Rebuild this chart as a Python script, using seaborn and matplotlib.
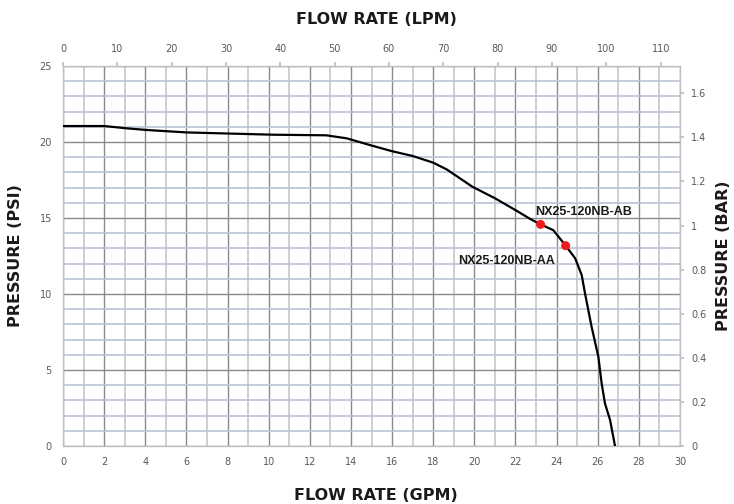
import matplotlib
matplotlib.use("Agg")
import matplotlib.pyplot as plt
import seaborn as sns
import pandas as pd
from matplotlib.ticker import MultipleLocator

# ---- data ----
flow_gpm = [0, 2.0, 3.1, 4.07, 6.0, 7.96, 10.2, 12.8, 13.8, 14.92, 15.98, 17.0, 18.0,
            18.65, 19.06, 19.9, 21.0, 22.05, 22.7, 23.22, 23.84, 24.44, 24.9, 25.22,
            25.38, 25.7, 26.03, 26.19, 26.35, 26.6, 26.84]
pressure_psi = [21.05, 21.05, 20.9, 20.79, 20.63, 20.56, 20.48, 20.44, 20.24, 19.8, 19.4,
                19.08, 18.64, 18.2, 17.83, 17.06, 16.3, 15.48, 14.95, 14.58, 14.2, 13.18,
                12.35, 11.25, 10.05, 7.85, 5.88, 4.12, 2.81, 1.71, 0.0]
model_names = ["NX25-120NB-AB", "NX25-120NB-AA"]
model_gpm = [23.22, 24.44]
model_psi = [14.58, 13.18]

gpm_ticks = list(range(0, 31, 2))
lpm_ticks = list(range(0, 111, 10))
psi_ticks = [0, 5, 10, 15, 20, 25]
bar_ticks = [0, 0.2, 0.4, 0.6, 0.8, 1, 1.2, 1.4, 1.6]
bar_labels = ["0", "0.2", "0.4", "0.6", "0.8", "1", "1.2", "1.4", "1.6"]

LPM_PER_GPM = 3.78541
PSI_PER_BAR = 14.5038

sns.set_theme(style="white")
plt.rcParams['font.family'] = ['DejaVu Sans']

fig = plt.figure(figsize=(7.34, 5.04), dpi=100)
ax = fig.add_axes([63/734, 1-446/504, (680-63)/734, (446-66)/504])

tick_font = dict(family=['Liberation Sans Narrow', 'DejaVu Sans'], size=7, color='#595959')

ax.set_xlim(0, 30)
ax.set_ylim(0, 25)
ax.xaxis.set_major_locator(MultipleLocator(2))
ax.xaxis.set_minor_locator(MultipleLocator(1))
ax.yaxis.set_major_locator(MultipleLocator(5))
ax.yaxis.set_minor_locator(MultipleLocator(1))
ax.grid(which='minor', axis='x', color='#cfcfcf', lw=1.4)
ax.grid(which='major', axis='x', color='#8a8a8a', lw=1.0)
ax.grid(which='minor', axis='y', color='#b9c4d6', lw=1.2)
ax.grid(which='major', axis='y', color='#8a8a8a', lw=1.0)
ax.set_axisbelow(True)
ax.set_xticks(gpm_ticks)
ax.set_xticklabels([str(t) for t in gpm_ticks], fontdict=tick_font)
ax.set_yticks(psi_ticks)
ax.set_yticklabels([str(t) for t in psi_ticks], fontdict=tick_font)
ax.tick_params(which='both', length=0, pad=8)
for s in ax.spines.values():
    s.set_color('#bfbfbf')
    s.set_linewidth(1.0)

df = pd.DataFrame({"gpm": flow_gpm, "psi": pressure_psi})
sns.lineplot(data=df, x="gpm", y="psi", ax=ax, color='black', lw=1.6, sort=False,
             estimator=None, zorder=3)
dm = pd.DataFrame({"gpm": model_gpm, "psi": model_psi, "name": model_names})
sns.scatterplot(data=dm, x="gpm", y="psi", ax=ax, color='#ee1c1c', s=42,
                edgecolor='none', zorder=4)
ax.set_xlabel("")
ax.set_ylabel("")

lab_font = dict(family=['Liberation Sans', 'DejaVu Sans'], size=9, weight='bold', color='#1a1a1a')
ax.annotate(model_names[0], (model_gpm[0], model_psi[0]), xytext=(-4, 9),
            textcoords='offset points', ha='left', va='center', **lab_font)
ax.annotate(model_names[1], (model_gpm[1], model_psi[1]), xytext=(-8, -11),
            textcoords='offset points', ha='right', va='center', **lab_font)

# top axis (LPM)
axt = ax.twiny()
axt.set_xlim(0, 30 * LPM_PER_GPM)
axt.set_xticks(lpm_ticks)
axt.set_xticklabels([str(t) for t in lpm_ticks], fontdict=tick_font)
axt.tick_params(axis='x', length=3, color='#bfbfbf', pad=6)
axt.grid(False)
for s in axt.spines.values():
    s.set_visible(False)

# right axis (BAR)
axr = ax.twinx()
axr.set_ylim(0, 25 / PSI_PER_BAR)
axr.set_yticks(bar_ticks)
axr.set_yticklabels(bar_labels, fontdict=tick_font)
axr.tick_params(axis='y', length=3, color='#bfbfbf', pad=5)
axr.grid(False)
for s in axr.spines.values():
    s.set_visible(False)

title_font = dict(family=['DejaVu Sans'], size=11.5, weight='heavy', color='#1a1a1a')
fig.text(376/734, 1-20/504, "FLOW RATE (LPM)", ha='center', va='center', **title_font)
fig.text(376/734, 1-495/504, "FLOW RATE (GPM)", ha='center', va='center', **title_font)
fig.text(16/734, 1-256/504, "PRESSURE (PSI)", ha='center', va='center', rotation=90, **title_font)
fig.text(723/734, 1-256/504, "PRESSURE (BAR)", ha='center', va='center', rotation=90, **title_font)

fig.savefig("out.png", dpi=100)
